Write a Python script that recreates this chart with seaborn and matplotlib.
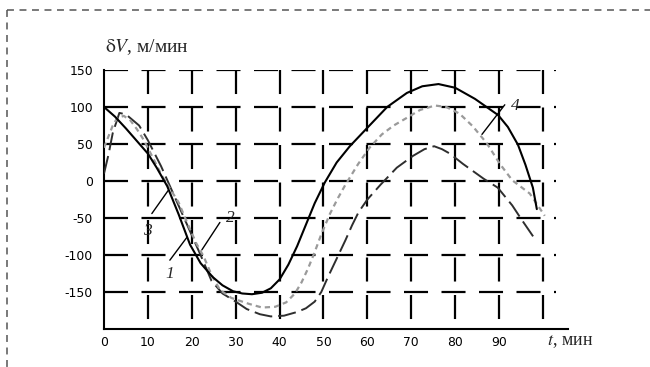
import numpy as np
import pandas as pd
import matplotlib
matplotlib.use("Agg")
import matplotlib.pyplot as plt
from matplotlib.lines import Line2D
import seaborn as sns

# данные (t, мин ; dV, м/мин)
t_solid = [0, 2.5, 5, 7.5, 10, 12, 14.4, 17, 19.6, 22, 24.8, 27, 29.4, 31.5, 33.7,
           36, 38, 40, 42, 44, 46, 48, 50.3, 53, 56, 60, 64.5, 69, 72.5,
           76.2, 80, 84.5, 89.8, 92, 94.3, 96, 97.7, 98.6]
v_solid = [100, 87, 71, 54, 37, 18, -7, -45, -86, -111, -130, -141, -149, -152, -153,
           -151, -145, -133, -113, -88, -59, -30, -2, 25, 47, 72, 100, 119, 128,
           131, 126, 111, 89, 73, 49, 22, -9, -38]

t_gray = [0, 1, 2, 3, 4.5, 6, 7.5, 9, 11, 13.2, 15, 17, 19, 21, 22.7, 24.5, 26.4,
          29, 33, 36, 39, 41.5, 43.5, 45, 46.5, 48, 49.5, 51.5, 53.3, 55, 57.9, 60.5,
          63.3, 66, 68.6, 72, 75.4, 78, 81, 84, 87.2, 90.2, 93, 97, 100.4]
v_gray = [45, 60, 75, 85, 88, 82, 70, 56, 33, 7, -10, -29, -57, -84, -102, -127, -147,
          -158, -166, -171, -170, -164, -152, -137, -118, -96, -72, -44, -23, -5, 23, 45,
          63, 75, 84, 96, 102, 100, 91, 74, 51, 23, 1, -17, -47]

t_long = [0, 1, 2, 3.5, 5, 8, 10, 13, 16, 19, 22, 24.5, 27, 30, 32.5, 35.5, 38, 41,
          44, 46, 48, 49.5, 51, 53, 55, 56.5, 58, 60, 63, 66.7,
          70.4, 73, 75.2, 77, 78.8, 81.8, 86.5, 89.7, 93, 95, 98]
v_long = [10, 35, 65, 92, 90, 75, 55, 20, -20, -60, -100, -135, -152, -163, -173, -180,
          -183, -182, -177, -172, -163, -150, -130, -105, -80, -60, -42, -25, -5, 18,
          34, 43, 47, 43, 37, 23, 3, -9, -33, -51, -77]

y_ticks = [150, 100, 50, 0, -50, -100, -150]
x_ticks = [0, 10, 20, 30, 40, 50, 60, 70, 80, 90]
x_grid = [10, 20, 30, 40, 50, 60, 70, 80, 90, 100]

curve_labels = ["1", "2", "3", "4"]
label_pos = [(15, -126), (28.8, -50), (10, -67), (93.6, 101)]
leader_t = [(15, 18.9), (26.4, 22.3), (10.9, 14.6), (86.1, 91.3)]
leader_v = [(-107, -76), (-56, -93), (-44, -13), (63, 103)]

sns.set_theme(style="white")
plt.rcParams["lines.scale_dashes"] = False
plt.rcParams["font.family"] = ["DejaVu Sans"]
plt.rcParams["mathtext.fontset"] = "stix"

fig = plt.figure(figsize=(6.5, 3.67), dpi=100)
ax = fig.add_axes([104 / 650, 1 - 329 / 367, 464 / 650, 259 / 367])
ax.set_xlim(0, 105.7)
ax.set_ylim(-200, 150)

# пунктирная сетка в стиле оригинала
grid_dash = (0, (17.3, 9.7))
ax.hlines(y_ticks, 0, 103, colors="black", linewidth=1.6, linestyles=[grid_dash], zorder=1)
ax.vlines(x_grid, 150, -200, colors="black", linewidth=1.6, linestyles=[grid_dash], zorder=1)

df1 = pd.DataFrame({"t": t_solid, "v": v_solid})
df2 = pd.DataFrame({"t": t_gray, "v": v_gray})
df3 = pd.DataFrame({"t": t_long, "v": v_long})
sns.lineplot(data=df3, x="t", y="v", ax=ax, color="#2e2e2e", linewidth=1.4,
             linestyle=(0, (13, 4.3)), zorder=3)
sns.lineplot(data=df2, x="t", y="v", ax=ax, color="#9a9a9a", linewidth=1.6,
             linestyle=(0, (3.8, 2.9)), zorder=3)
sns.lineplot(data=df1, x="t", y="v", ax=ax, color="black", linewidth=1.5, zorder=4)

for lab, (tx, ty), lt, lv in zip(curve_labels, label_pos, leader_t, leader_v):
    ax.plot(lt, lv, color="black", linewidth=1.0, zorder=5)
    ax.text(tx, ty, lab, fontsize=12.5, style="italic", family="Liberation Serif",
            ha="center", va="center", zorder=6)

for s in ["top", "right"]:
    ax.spines[s].set_visible(False)
for s in ["left", "bottom"]:
    ax.spines[s].set_color("black")
    ax.spines[s].set_linewidth(1.5)

ax.set_xticks(x_ticks)
ax.set_yticks(y_ticks)
ax.set_xticklabels([str(x) for x in x_ticks])
ax.set_yticklabels([str(y) for y in y_ticks])
ax.tick_params(axis="both", length=0, labelsize=8.9, colors="black")
ax.tick_params(axis="y", pad=8)
ax.tick_params(axis="x", pad=5)
ax.set_xlabel("")
ax.set_ylabel("")

fig.text(105 / 650, 1 - 47 / 367, r"$\mathrm{\delta}V$, м/мин", fontsize=14,
         family="Liberation Serif", ha="left", va="center")
fig.text(547 / 650, 1 - 342 / 367, r"$t$, мин", fontsize=13,
         family="Liberation Serif", ha="left", va="center")

# пунктирная рамка
bc = "#555555"
fig.add_artist(Line2D([7 / 650, 1], [1 - 10 / 367, 1 - 10 / 367], color=bc,
                      linewidth=1.1, linestyle=(0, (5, 4))))
fig.add_artist(Line2D([7 / 650, 7 / 650], [1 - 10 / 367, 0], color=bc,
                      linewidth=1.1, linestyle=(0, (5, 4))))

fig.savefig("out.png", dpi=100)
